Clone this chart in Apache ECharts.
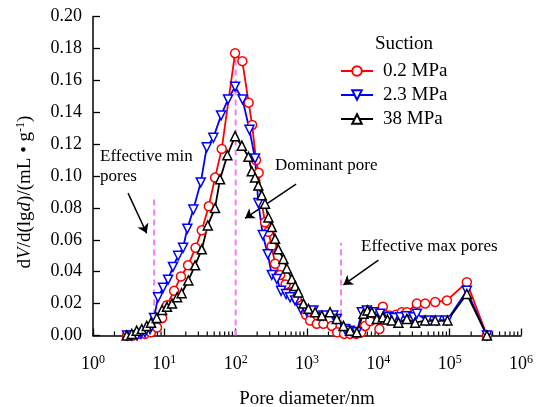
<!DOCTYPE html>
<html>
<head>
<meta charset="utf-8">
<script src="https://cdn.jsdelivr.net/npm/echarts@6/dist/echarts.min.js"></script>
<style>
  html, body { margin: 0; padding: 0; background: #fff; }
  #chart { width: 539px; height: 407px; }
</style>
</head>
<body>
<div id="chart"></div>
<script>
// Pore size distribution dV/d(lgd) (mL/g) against pore diameter (nm) at three suctions
const diamRed = [3.0, 3.64, 4.42, 5.36, 6.5, 7.9, 9.3, 10.9, 13.7, 17.1,
  21.5, 27.4, 33.5, 42.0, 51.4, 63.8, 98.1, 124, 152, 170,
  193, 210, 232, 258, 288, 319, 357, 420, 501, 598,
  719, 846, 971, 1105, 1372, 1698, 2227, 2642, 3311, 4018,
  4886, 5741, 6531, 7674, 8535, 10350, 11560, 14320, 17780, 21380,
  25120, 34670, 45290, 62660, 91410, 174200, 332600];
const valRed = [0, 0, 0.001, 0.001, 0.002, 0.005, 0.011, 0.019, 0.028, 0.037,
  0.044, 0.055, 0.066, 0.081, 0.099, 0.117, 0.177, 0.172, 0.146, 0.132,
  0.110, 0.102, 0.083, 0.071, 0.065, 0.056, 0.045, 0.038, 0.032, 0.027,
  0.023, 0.019, 0.013, 0.0094, 0.0073, 0.0073, 0.006, 0.002, 0.001, 0.001,
  0.001, 0.002, 0.006, 0.009, 0.014, 0.004, 0.018, 0.0125, 0.013, 0.0146,
  0.0146, 0.020, 0.020, 0.021, 0.022, 0.0334, 0];

const diamBlue = [3.0, 3.52, 4.14, 4.71, 5.36, 6.3, 7.17, 8.16, 9.6, 11.3,
  13.2, 15.6, 18.3, 21.0, 25.5, 32.4, 39.3, 48.6, 62.4, 78.2,
  98.1, 125, 156, 187, 208, 240, 282, 321, 377, 433,
  509, 579, 681, 818, 993, 1230, 1698, 2345, 2617, 3420,
  4018, 4993, 5873, 6902, 8535, 10590, 13860, 16670, 20230, 24550,
  31050, 34670, 47860, 66070, 91410, 174200, 332600];
const valBlue = [0, 0, 0, 0.001, 0.002, 0.004, 0.011, 0.024, 0.030, 0.035,
  0.043, 0.050, 0.055, 0.067, 0.079, 0.096, 0.118, 0.124, 0.138, 0.148,
  0.156, 0.148, 0.129, 0.111, 0.083, 0.063, 0.051, 0.038, 0.0355, 0.028,
  0.026, 0.024, 0.022, 0.0167, 0.015, 0.0157, 0.0125, 0.0125, 0.0104, 0.004,
  0.003, 0.002, 0.0146, 0.0157, 0.0146, 0.0136, 0.0115, 0.011, 0.0115, 0.012,
  0.0115, 0.0136, 0.0094, 0.0094, 0.0094, 0.028, 0];

const diamBlack = [2.97, 3.49, 4.10, 4.82, 5.66, 6.5, 7.82, 9.3, 10.9, 12.8,
  15.1, 17.5, 21.7, 27.0, 33.5, 40.6, 51.4, 60.4, 76.5, 98.1,
  122, 151, 168, 187, 208, 232, 258, 288, 321, 357,
  397, 467, 521, 612, 681, 757, 891, 1046, 1300, 1614,
  2109, 2617, 3243, 4018, 4993, 6180, 7030, 8110, 9530, 11560,
  13430, 15460, 19140, 25120, 32810, 45290, 62660, 93110, 174200, 332600];
const valBlack = [0, 0.001, 0.003, 0.004, 0.006, 0.008, 0.011, 0.016, 0.018, 0.020,
  0.024, 0.0265, 0.0345, 0.044, 0.054, 0.069, 0.080, 0.098, 0.113, 0.125,
  0.119, 0.112, 0.103, 0.099, 0.094, 0.088, 0.0826, 0.074, 0.068, 0.0606,
  0.054, 0.048, 0.042, 0.0355, 0.031, 0.027, 0.020, 0.0167, 0.0146, 0.0125,
  0.0146, 0.0104, 0.006, 0.003, 0.002, 0.0136, 0.0157, 0.0146, 0.0104, 0.0115,
  0.010, 0.0094, 0.008, 0.0104, 0.008, 0.0094, 0.0094, 0.0094, 0.026, 0];

const seriesNames = ['0.2 MPa', '2.3 MPa', '38 MPa'];

// Boundary diameters (nm) and the heights of their dashed guide lines
const guideDiam = [7.2, 100, 3000];
const guideTop = [0.088, 0.175, 0.058];

// Arrow annotations: [start diameter, start value, end diameter, end value]
const arrows = [
  [3.10, 0.0893, 5.66, 0.0641],
  [703, 0.0949, 135.5, 0.0735],
  [10030, 0.0473, 3243, 0.0317]
];

const FONT = 'Liberation Serif';

function pairs(xs, ys) { return xs.map((x, i) => [x, ys[i]]); }

// Minor tick positions 2..9 x 10^k on the logarithmic diameter axis
const minorTicks = [];
for (let k = 0; k < 6; k++) {
  for (let m = 2; m <= 9; m++) minorTicks.push([m * Math.pow(10, k), 0]);
}

function curve(name, xs, ys, color, symbol, rotate) {
  return {
    name: name,
    type: 'line',
    data: pairs(xs, ys),
    symbol: symbol,
    symbolSize: 9,
    symbolRotate: rotate,
    showAllSymbol: true,
    lineStyle: { color: color, width: 1.8 },
    itemStyle: { color: '#fff', borderColor: color, borderWidth: 1.5 },
    z: 5
  };
}

const chart = echarts.init(document.getElementById('chart'), null, { renderer: 'canvas' });

const guideSeries = guideDiam.map((d, i) => ({
  type: 'line',
  data: [[d, 0], [d, guideTop[i]]],
  symbol: 'none',
  silent: true,
  lineStyle: { color: '#f47cf4', width: 2, type: [6, 4] },
  z: 2
}));

chart.setOption({
  animation: false,
  backgroundColor: '#fff',
  grid: { left: 93, right: 18, top: 16.5, bottom: 71.5, containLabel: false, outerBoundsMode: 'none' },
  title: {
    text: 'Suction', left: 375, top: 35, padding: 0,
    textStyle: { fontFamily: FONT, fontSize: 19, fontWeight: 'normal', color: '#000' }
  },
  legend: {
    data: seriesNames,
    orient: 'vertical',
    left: 340, top: 61, padding: 0,
    itemWidth: 32, itemHeight: 12, itemGap: 4,
    textStyle: { fontFamily: FONT, fontSize: 19, color: '#000', lineHeight: 20, padding: [0, 0, 0, 5] }
  },
  xAxis: {
    type: 'log', logBase: 10, min: 1, max: 1e6,
    name: 'Pore diameter/nm', nameLocation: 'middle', nameGap: 54,
    nameTextStyle: { fontFamily: FONT, fontSize: 19, color: '#000' },
    axisLine: { lineStyle: { color: '#000', width: 1.5 } },
    axisTick: { inside: true, length: 7, lineStyle: { color: '#000', width: 1.3 } },
    splitLine: { show: false },
    axisLabel: {
      margin: 18,
      formatter: v => '{b|10}{s|' + Math.round(Math.log10(v)) + '}',
      rich: {
        b: { fontFamily: FONT, fontSize: 18, color: '#000' },
        s: { fontFamily: FONT, fontSize: 12, color: '#000', padding: [0, 0, 9, 0] }
      }
    }
  },
  yAxis: {
    type: 'value', min: 0, max: 0.2, interval: 0.02,
    axisLine: { show: true, lineStyle: { color: '#000', width: 1.5 } },
    axisTick: { show: true, inside: true, length: 7, lineStyle: { color: '#000', width: 1.3 } },
    splitLine: { show: false },
    axisLabel: { margin: 11, fontFamily: FONT, fontSize: 18, color: '#000', formatter: v => v.toFixed(2) }
  },
  graphic: [
    {
      type: 'text', x: 25, y: 192, rotation: Math.PI / 2,
      style: {
        text: '{n|d}{i|V}{n|/d(lg}{i|d}{n|)/(mL • g}{s|-1}{n|)}',
        align: 'center', verticalAlign: 'middle',
        rich: {
          n: { fontFamily: FONT, fontSize: 19, fill: '#000' },
          i: { fontFamily: FONT, fontSize: 19, fontStyle: 'italic', fill: '#000' },
          s: { fontFamily: FONT, fontSize: 12, fill: '#000', padding: [0, 0, 9, 0] }
        }
      }
    },
    { type: 'text', x: 100, y: 157, style: { text: 'Effective min', fontFamily: FONT, fontSize: 17, fill: '#000', verticalAlign: 'middle' } },
    { type: 'text', x: 100, y: 177, style: { text: 'pores', fontFamily: FONT, fontSize: 17, fill: '#000', verticalAlign: 'middle' } },
    { type: 'text', x: 275, y: 166, style: { text: 'Dominant pore', fontFamily: FONT, fontSize: 17, fill: '#000', verticalAlign: 'middle' } },
    { type: 'text', x: 361, y: 247, style: { text: 'Effective max pores', fontFamily: FONT, fontSize: 17, fill: '#000', verticalAlign: 'middle' } }
  ],
  series: [
    ...guideSeries,
    {
      type: 'custom',
      silent: true,
      data: minorTicks,
      renderItem: (params, api) => {
        const p = api.coord([api.value(0), 0]);
        return { type: 'line', shape: { x1: p[0], y1: p[1], x2: p[0], y2: p[1] - 4 }, style: { stroke: '#000', lineWidth: 1.2 } };
      },
      z: 3
    },
    {
      type: 'line',
      data: [],
      silent: true,
      markLine: {
        silent: true,
        symbol: ['none', 'arrow'],
        symbolSize: 9,
        label: { show: false },
        lineStyle: { color: '#000', width: 1.5, type: 'solid' },
        data: arrows.map(a => [{ coord: [a[0], a[1]] }, { coord: [a[2], a[3]] }])
      }
    },
    curve(seriesNames[0], diamRed, valRed, '#ff0000', 'circle', 0),
    curve(seriesNames[1], diamBlue, valBlue, '#0000ff', 'triangle', 180),
    curve(seriesNames[2], diamBlack, valBlack, '#000000', 'triangle', 0)
  ]
});
</script>
</body>
</html>
